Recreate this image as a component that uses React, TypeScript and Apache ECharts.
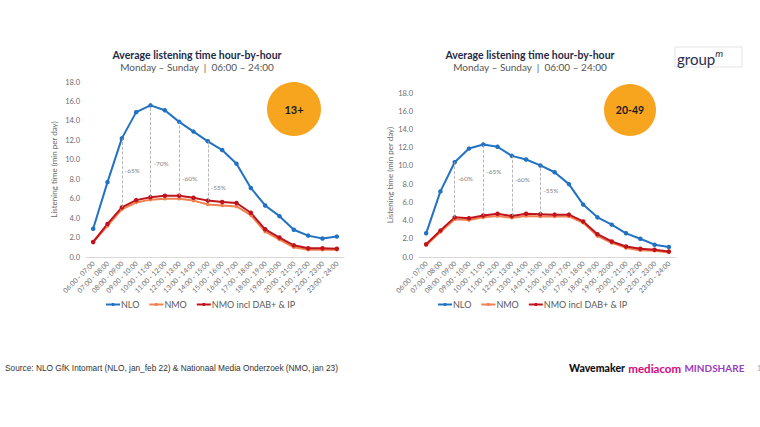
import React, { useEffect, useRef } from "react";
import * as echarts from "echarts";

const categories = [
  "06:00 - 07:00", "07:00 - 08:00", "08:00 - 09:00", "09:00 - 10:00", "10:00 - 11:00",
  "11:00 - 12:00", "12:00 - 13:00", "13:00 - 14:00", "14:00 - 15:00", "15:00 - 16:00",
  "16:00 - 17:00", "17:00 - 18:00", "18:00 - 19:00", "19:00 - 20:00", "20:00 - 21:00",
  "21:00 - 22:00", "22:00 - 23:00", "23:00 - 24:00",
];

// 13+
const nlo13 = [2.9, 7.7, 12.2, 14.9, 15.6, 15.1, 13.9, 12.9, 11.9, 11.0, 9.6, 7.1, 5.3, 4.2, 2.8, 2.2, 1.9, 2.1];
const nmo13 = [1.5, 3.2, 4.9, 5.6, 5.9, 6.0, 6.0, 5.8, 5.4, 5.3, 5.2, 4.3, 2.6, 1.8, 1.0, 0.75, 0.75, 0.75];
const nmoIncl13 = [1.55, 3.4, 5.1, 5.85, 6.15, 6.3, 6.3, 6.1, 5.8, 5.65, 5.55, 4.55, 2.85, 2.0, 1.2, 0.9, 0.9, 0.85];

// 20-49
const nlo2049 = [2.6, 7.2, 10.4, 11.9, 12.35, 12.1, 11.1, 10.7, 10.05, 9.3, 8.0, 5.75, 4.35, 3.55, 2.6, 2.0, 1.35, 1.1];
const nmo2049 = [1.3, 2.75, 4.15, 4.05, 4.35, 4.5, 4.3, 4.5, 4.45, 4.45, 4.45, 3.75, 2.3, 1.55, 1.0, 0.75, 0.68, 0.5];
const nmoIncl2049 = [1.4, 2.9, 4.35, 4.25, 4.55, 4.75, 4.5, 4.75, 4.7, 4.65, 4.65, 3.9, 2.5, 1.7, 1.15, 0.9, 0.8, 0.6];

const gapIdx = [2, 4, 6, 8];
const pct13 = ["-65%", "-70%", "-60%", "-55%"];
const pct13At = [8.9, 9.6, 8.1, 7.2];
const pct2049 = ["-60%", "-65%", "-60%", "-55%"];
const pct2049At = [8.6, 9.4, 8.5, 7.3];

const yTicks = { min: 0, max: 18, interval: 2 };
const seriesNames = ["NLO", "NMO", "NMO incl DAB+ & IP"];

const FONT = "Lato, 'Open Sans', 'DejaVu Sans', sans-serif";
const ARIAL = "'Liberation Sans', Arial, sans-serif";
const C_NLO = "#2272c3";
const C_NMO = "#f08050";
const C_INCL = "#c0141c";

function buildSeries(idx: number, nlo: number[], nmo: number[], incl: number[], pct: string[], pctAt: number[]) {
  return [
    {
      name: seriesNames[0], type: "line", xAxisIndex: idx, yAxisIndex: idx, data: nlo,
      symbol: "circle", symbolSize: 4.5, lineStyle: { width: 2, color: C_NLO }, itemStyle: { color: C_NLO },
    },
    {
      name: seriesNames[1], type: "line", xAxisIndex: idx, yAxisIndex: idx, data: nmo,
      symbol: "circle", symbolSize: 3.5, lineStyle: { width: 2, color: C_NMO }, itemStyle: { color: C_NMO },
    },
    {
      name: seriesNames[2], type: "line", xAxisIndex: idx, yAxisIndex: idx, data: incl,
      symbol: "circle", symbolSize: 4.5, lineStyle: { width: 2, color: C_INCL }, itemStyle: { color: C_INCL },
      markLine: {
        silent: true, symbol: "none", label: { show: false },
        lineStyle: { type: "dashed", color: "#a6a6a6", width: 0.8 },
        data: gapIdx.map((g) => [
          { coord: [categories[g], incl[g]] },
          { coord: [categories[g], nlo[g]] },
        ]),
      },
    },
    {
      name: "pct", type: "scatter", xAxisIndex: idx, yAxisIndex: idx, symbolSize: 0, silent: true,
      data: gapIdx.map((g, i) => ({ value: [categories[g], pctAt[i]], label: { formatter: pct[i] } })),
      label: { show: true, position: "right", distance: 3, fontSize: 6.5, color: "#595959", fontFamily: FONT },
    },
  ];
}

function axisPair(idx: number, gap: number) {
  const x = {
    type: "category", gridIndex: idx, data: categories, boundaryGap: true,
    axisLine: { lineStyle: { color: "#d9d9d9", width: 1 } }, axisTick: { show: false },
    axisLabel: { interval: 0, rotate: 45, fontSize: 6.9, color: "#6b6b6b", fontFamily: FONT, margin: 5 },
  };
  const y = {
    type: "value", gridIndex: idx, ...yTicks,
    name: "Listening time (min per day)", nameLocation: "middle", nameGap: gap, nameRotate: 90,
    nameTextStyle: { fontSize: 8, color: "#6b6b6b", fontFamily: FONT },
    axisLine: { show: false }, axisTick: { show: false }, splitLine: { show: false },
    axisLabel: { fontSize: 7.5, color: "#6b6b6b", fontFamily: FONT, margin: 6, formatter: (v: number) => v.toFixed(1) },
  };
  return { x, y };
}

function titleTexts(cx: number) {
  return [
    { type: "text", x: cx, y: 55, style: { text: "Average listening time hour-by-hour", align: "center", verticalAlign: "middle", fontSize: 10.5, fontWeight: "bold", fill: "#1f2b47", fontFamily: FONT } },
    { type: "text", x: cx, y: 67, style: { text: "Monday – Sunday  |  06:00 – 24:00", align: "center", verticalAlign: "middle", fontSize: 10, fill: "#555", fontFamily: FONT } },
  ];
}

export default function App() {
  const ref = useRef<HTMLDivElement>(null);
  useEffect(() => {
    if (!ref.current) return;
    const chart = echarts.init(ref.current, null, { renderer: "svg" });
    const a0 = axisPair(0, 28);
    const a1 = axisPair(1, 24);
    const legendBase = {
      data: seriesNames, itemWidth: 14, itemHeight: 4, itemGap: 9,
      textStyle: { fontSize: 9, color: "#595959", fontFamily: FONT, padding: [0, 0, 0, -4] }, selectedMode: false,
    };
    chart.setOption({
      animation: false,
      backgroundColor: "#ffffff",
      grid: [
        { left: 86, top: 82, width: 258, height: 175 },
        { left: 419, top: 93, width: 257, height: 164 },
      ],
      xAxis: [a0.x, a1.x],
      yAxis: [a0.y, a1.y],
      legend: [
        { ...legendBase, left: 100, top: 295 },
        { ...legendBase, left: 432, top: 295 },
      ],
      series: [
        ...buildSeries(0, nlo13, nmo13, nmoIncl13, pct13, pct13At),
        ...buildSeries(1, nlo2049, nmo2049, nmoIncl2049, pct2049, pct2049At),
      ],
      graphic: [
        ...titleTexts(197),
        ...titleTexts(530),
        { type: "circle", shape: { cx: 294, cy: 109, r: 27 }, style: { fill: "#f7a51f" } },
        { type: "text", x: 294, y: 109, style: { text: "13+", align: "center", verticalAlign: "middle", fontSize: 11, fontWeight: "bold", fill: "#1a1a1a", fontFamily: FONT } },
        { type: "circle", shape: { cx: 630, cy: 110, r: 26 }, style: { fill: "#f7a51f" } },
        { type: "text", x: 630, y: 110, style: { text: "20-49", align: "center", verticalAlign: "middle", fontSize: 10.5, fontWeight: "bold", fill: "#1a1a1a", fontFamily: FONT } },
        { type: "rect", shape: { x: 675, y: 47, width: 67, height: 20 }, style: { fill: "#fff", stroke: "#e3e3e3", lineWidth: 1 } },
        {
          type: "text", x: 677, y: 57,
          style: {
            text: "{g|group}{m|m}", verticalAlign: "middle",
            rich: {
              g: { fontSize: 15, fill: "#27304f", fontFamily: FONT, verticalAlign: "bottom" },
              m: { fontSize: 10, fill: "#27304f", fontFamily: FONT, fontStyle: "italic", padding: [0, 0, 9, 0] },
            },
          },
        },
        { type: "text", x: 5, y: 368, style: { text: "Source: NLO GfK Intomart (NLO, jan_feb 22) & Nationaal Media Onderzoek (NMO, jan 23)", verticalAlign: "middle", fontSize: 8.3, fill: "#333", fontFamily: ARIAL } },
        {
          type: "text", x: 569, y: 368,
          style: {
            text: "{w|Wavemaker} {m|mediacom} {s|MINDSHARE}", verticalAlign: "middle",
            rich: {
              w: { fontSize: 10.5, fontWeight: 900, fill: "#111", fontFamily: FONT },
              m: { fontSize: 11.5, fontWeight: "bold", fill: "#d4087d", fontFamily: FONT },
              s: { fontSize: 10, fontWeight: "bold", fill: "#9a3cc0", fontFamily: FONT },
            },
          },
        },
        { type: "text", x: 757, y: 368, style: { text: "1", verticalAlign: "middle", fontSize: 7.5, fill: "#aaa", fontFamily: FONT } },
      ],
    });
    return () => chart.dispose();
  }, []);
  return <div ref={ref} style={{ position: "fixed", left: 0, top: 0, width: 760, height: 427 }} />;
}
